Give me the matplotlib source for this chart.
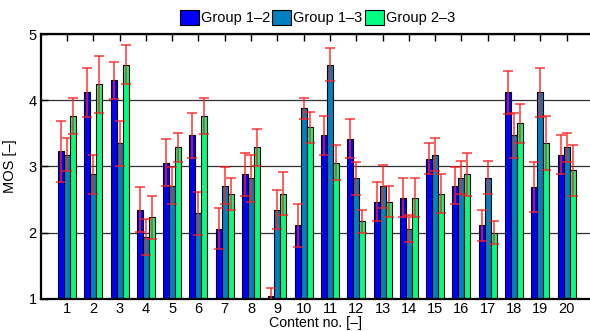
import matplotlib
matplotlib.use('Agg')
import matplotlib.pyplot as plt
import numpy as np
from matplotlib.patches import Patch

plt.rcParams['font.family'] = ['Liberation Sans', 'DejaVu Sans']
plt.rcParams['font.size'] = 10.5

content = list(range(1, 21))
groups = ['Group 1\u20132', 'Group 1\u20133', 'Group 2\u20133']
colors = ['#0000ff', '#0080c0', '#00ff80']

# mean opinion scores per content, one list per group pair
mos_12 = [3.23, 4.12, 4.30, 2.35, 3.06, 3.47, 2.06, 2.88, 1.05, 2.11,
          3.47, 3.42, 2.47, 2.53, 3.12, 2.71, 2.11, 4.12, 2.69, 3.18]
mos_13 = [3.18, 2.88, 3.35, 1.94, 2.71, 2.29, 2.71, 2.82, 2.35, 3.88,
          4.54, 2.82, 2.70, 2.06, 3.18, 2.83, 2.83, 3.47, 4.12, 3.29]
mos_23 = [3.76, 4.24, 4.54, 2.23, 3.29, 3.76, 2.59, 3.29, 2.59, 3.59,
          3.06, 2.17, 2.47, 2.53, 2.59, 2.88, 2.00, 3.65, 3.35, 2.94]

# 95% confidence half widths
ci_12 = [0.46, 0.37, 0.28, 0.34, 0.36, 0.34, 0.31, 0.33, 0.12, 0.33,
         0.29, 0.29, 0.30, 0.30, 0.23, 0.28, 0.23, 0.33, 0.38, 0.30]
ci_13 = [0.25, 0.29, 0.34, 0.27, 0.28, 0.33, 0.28, 0.35, 0.29, 0.16,
         0.25, 0.25, 0.32, 0.20, 0.25, 0.25, 0.25, 0.34, 0.37, 0.22]
ci_23 = [0.27, 0.43, 0.30, 0.32, 0.22, 0.27, 0.24, 0.28, 0.33, 0.24,
         0.26, 0.18, 0.24, 0.30, 0.29, 0.33, 0.17, 0.29, 0.41, 0.39]

means = [mos_12, mos_13, mos_23]
cis = [ci_12, ci_13, ci_23]

fig = plt.figure(figsize=(5.9, 3.31), dpi=100)
ax = fig.add_axes([0.069, 0.097, 0.936, 0.80])

x = np.array(content, dtype=float)
width = 0.228
for k in range(3):
    pos = x + (k - 1) * width
    ax.bar(pos, np.array(means[k]) - 1, width, bottom=1, color=colors[k],
           edgecolor='black', linewidth=0.8, zorder=2)
for k in range(3):
    pos = x + (k - 1) * width
    ax.errorbar(pos, means[k], yerr=cis[k], fmt='none', ecolor='#ff2020',
                elinewidth=1.1, capsize=3.6, capthick=1.1, alpha=0.9, zorder=3)

ax.set_xlim(0, 21)
ax.set_ylim(1, 5)
ax.set_xticks(content)
ax.set_yticks([1, 2, 3, 4, 5])
ax.tick_params(direction='in', top=True, right=False, length=5, width=1,
               labelsize=10.5, pad=3)
ax.tick_params(axis='x', pad=2)
ax.yaxis.grid(True, color='#303030', linewidth=0.9)
ax.set_axisbelow(True)
for side in ['top', 'bottom', 'left']:
    ax.spines[side].set_linewidth(1.6)
ax.spines['right'].set_visible(False)

ax.set_ylabel('MOS [\u2013]', labelpad=8)
ax.set_xlabel('Content no. [\u2013]', labelpad=0, fontsize=10.2)
ax.xaxis.set_label_coords(0.497, -0.066)

handles = [Patch(facecolor=c, edgecolor='black', linewidth=0.8) for c in colors]
fig.legend(handles, groups, loc='center', bbox_to_anchor=(0.538, 0.947),
           ncol=3, frameon=False, handlelength=1.3, handleheight=1.3,
           handletextpad=0.15, columnspacing=0.15, borderpad=0)

fig.savefig('out.png', dpi=100)
